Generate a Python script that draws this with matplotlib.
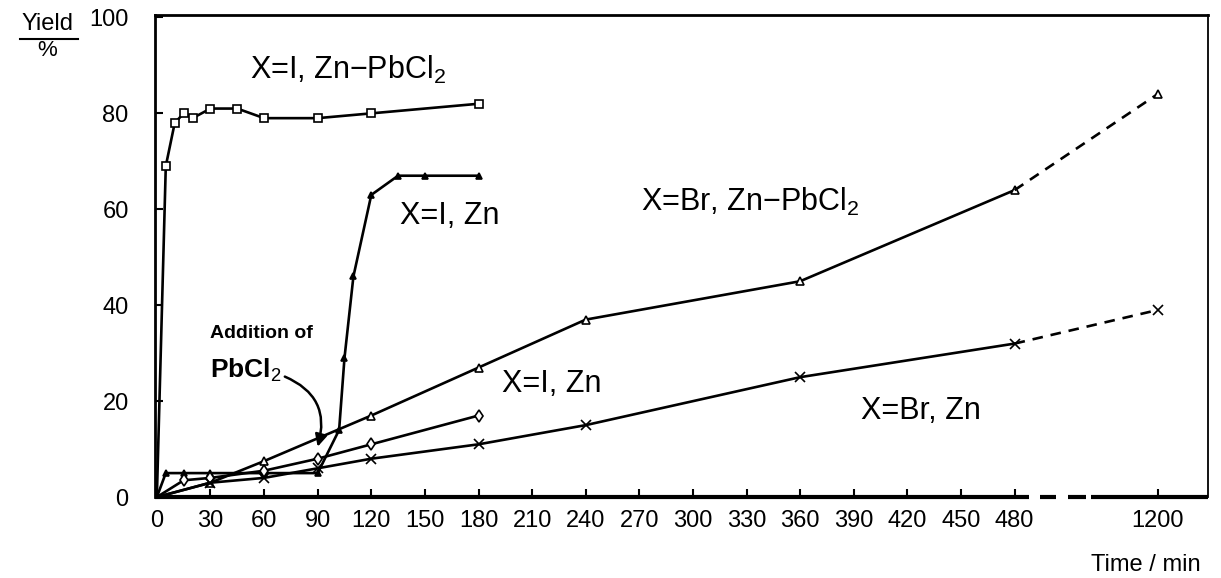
import numpy as np
import matplotlib

matplotlib.use("Agg")
import matplotlib.pyplot as plt  # noqa: E402

plt.rcParams["font.family"] = ["Liberation Sans", "DejaVu Sans"]
plt.rcParams["mathtext.fontset"] = "custom"
plt.rcParams["mathtext.rm"] = "Liberation Sans"

# X=I, Zn-PbCl2 (open squares)
t_i_pb = [0, 5, 10, 15, 20, 30, 45, 60, 90, 120, 180]
y_i_pb = [0, 69, 78, 80, 79, 81, 81, 79, 79, 80, 82]

# X=I, Zn, PbCl2 added at 90 min (filled triangles)
t_i_add = [0, 5, 15, 30, 60, 90, 102, 105, 110, 120, 135, 150, 180]
y_i_add = [0, 5, 5, 5, 5, 5, 14, 29, 46, 63, 67, 67, 67]

# X=Br, Zn-PbCl2 (open triangles)
t_br_pb = [0, 30, 60, 120, 180, 240, 360, 480, 1200]
y_br_pb = [0, 3, 7.5, 17, 27, 37, 45, 64, 84]

# X=I, Zn (open diamonds)
t_i_zn = [0, 15, 30, 60, 90, 120, 180]
y_i_zn = [0, 3.5, 4, 5.5, 8, 11, 17]

# X=Br, Zn (crosses)
t_br_zn = [0, 30, 60, 90, 120, 180, 240, 360, 480, 1200]
y_br_zn = [0, 3, 4, 6, 8, 11, 15, 25, 32, 39]

x_ticks = list(range(0, 481, 30)) + [1200]
y_ticks = [0, 20, 40, 60, 80, 100]

BREAK_AT = 480
LONG_POS = 560  # where 1200 min sits on the broken axis


def xpos(t):
    t = np.asarray(t, dtype=float)
    return np.where(t > BREAK_AT, LONG_POS, t)


fig = plt.figure(figsize=(12.21, 5.78), dpi=100)
ax = fig.add_axes([0.127, 0.140, 0.862, 0.834])

lw = 1.9


def draw(t, y, marker, fill="white", ms=6):
    t = np.asarray(t)
    y = np.asarray(y)
    x = xpos(t)
    near = t <= BREAK_AT
    ax.plot(x[near], y[near], "-", marker=marker, color="k", lw=lw, ms=ms,
            mfc=fill, mec="k", mew=1.2, markevery=list(range(1, near.sum())))
    if (~near).any():
        i = near.sum() - 1
        ax.plot(x[i:], y[i:], "--", marker=marker, color="k", lw=lw, ms=ms,
                mfc=fill, mec="k", mew=1.2, dashes=(4, 3), markevery=[len(x) - 1 - i])


draw(t_i_pb, y_i_pb, "s")
draw(t_i_add, y_i_add, "^", fill="k", ms=5)
draw(t_br_pb, y_br_pb, "^")
draw(t_i_zn, y_i_zn, "d")
draw(t_br_zn, y_br_zn, "x", ms=7)

ax.set_xlim(-1, 588)
ax.set_ylim(0, 100.5)
ax.set_xticks(xpos(x_ticks))
ax.set_xticklabels([str(v) for v in x_ticks])
ax.set_yticks(y_ticks)
ax.tick_params(direction="in", length=6, width=1.5, labelsize=17)
ax.tick_params(axis="x", pad=9)
ax.tick_params(axis="y", pad=19)
for s in ["left", "top"]:
    ax.spines[s].set_linewidth(2)
ax.spines["right"].set_linewidth(1.3)
ax.spines["bottom"].set_visible(False)

# broken bottom axis: solid, two dashes, solid
for a, b in [(-1, 488), (494, 503), (510, 520), (523, 588)]:
    ax.plot([a, b], [0, 0], color="k", lw=3, clip_on=False, solid_capstyle="butt")

fs = 22
ax.text(107, 89, "X=I, Zn$-$PbCl$_2$", fontsize=fs, ha="center", va="center")
ax.text(136, 58.5, "X=I, Zn", fontsize=fs, ha="left", va="center")
ax.text(271, 61.5, "X=Br, Zn$-$PbCl$_2$", fontsize=fs, ha="left", va="center")
ax.text(193, 23.5, "X=I, Zn", fontsize=fs, ha="left", va="center")
ax.text(394, 18, "X=Br, Zn", fontsize=fs, ha="left", va="center")

ax.text(30, 34, "Addition of", fontsize=14, fontweight="bold", ha="left", va="center")
ax.annotate("PbCl$_2$", xy=(90, 10.5), xytext=(30, 26.5), fontsize=19, fontweight="bold",
            ha="left", va="center",
            arrowprops=dict(arrowstyle="-|>", color="k", lw=1.8, mutation_scale=18,
                            connectionstyle="arc3,rad=-0.45", shrinkA=0, shrinkB=0,
                            relpos=(1.0, 0.3)))

fig.text(0.039, 0.958, "Yield", fontsize=17, ha="center", va="center")
fig.add_artist(plt.Line2D([0.016, 0.064], [0.933, 0.933], color="k", lw=1.5))
fig.text(0.039, 0.913, "%", fontsize=16, ha="center", va="center")
fig.text(0.983, 0.022, "Time / min", fontsize=17, ha="right", va="center")

fig.savefig("out.png", dpi=100)
